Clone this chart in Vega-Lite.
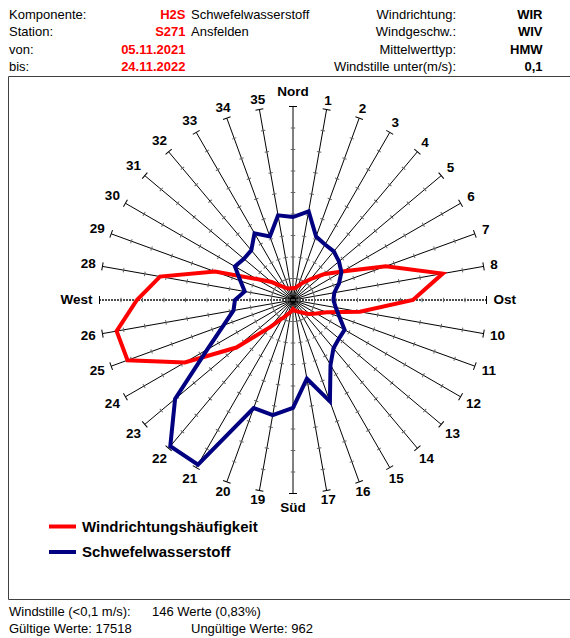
{
  "$schema": "https://vega.github.io/schema/vega-lite/v6.json",
  "width": 562,
  "height": 523,
  "autosize": {"type": "none"},
  "padding": {"left": 8, "top": 76, "right": 0, "bottom": 39},
  "background": "white",
  "config": {
    "view": {"stroke": "#404040", "strokeWidth": 1},
    "font": "Liberation Sans"
  },
  "datasets": {
    "rose": [
      {"dir": 1, "label": "1", "Windrichtungshäufigkeit": 0.56, "Schwefelwasserstoff": 4.19},
      {"dir": 2, "label": "2", "Windrichtungshäufigkeit": 0.70, "Schwefelwasserstoff": 3.14},
      {"dir": 3, "label": "3", "Windrichtungshäufigkeit": 0.93, "Schwefelwasserstoff": 2.98},
      {"dir": 4, "label": "4", "Windrichtungshäufigkeit": 1.26, "Schwefelwasserstoff": 2.95},
      {"dir": 5, "label": "5", "Windrichtungshäufigkeit": 1.86, "Schwefelwasserstoff": 2.79},
      {"dir": 6, "label": "6", "Windrichtungshäufigkeit": 2.65, "Schwefelwasserstoff": 2.60},
      {"dir": 7, "label": "7", "Windrichtungshäufigkeit": 4.60, "Schwefelwasserstoff": 2.28},
      {"dir": 8, "label": "8", "Windrichtungshäufigkeit": 7.07, "Schwefelwasserstoff": 1.95},
      {"dir": 9, "label": "Ost", "Windrichtungshäufigkeit": 5.58, "Schwefelwasserstoff": 1.88},
      {"dir": 10, "label": "10", "Windrichtungshäufigkeit": 3.16, "Schwefelwasserstoff": 2.02},
      {"dir": 11, "label": "11", "Windrichtungshäufigkeit": 1.67, "Schwefelwasserstoff": 2.30},
      {"dir": 12, "label": "12", "Windrichtungshäufigkeit": 1.26, "Schwefelwasserstoff": 2.77},
      {"dir": 13, "label": "13", "Windrichtungshäufigkeit": 1.02, "Schwefelwasserstoff": 2.79},
      {"dir": 14, "label": "14", "Windrichtungshäufigkeit": 0.79, "Schwefelwasserstoff": 2.93},
      {"dir": 15, "label": "15", "Windrichtungshäufigkeit": 0.65, "Schwefelwasserstoff": 3.49},
      {"dir": 16, "label": "16", "Windrichtungshäufigkeit": 0.56, "Schwefelwasserstoff": 5.02},
      {"dir": 17, "label": "17", "Windrichtungshäufigkeit": 0.51, "Schwefelwasserstoff": 3.72},
      {"dir": 18, "label": "Süd", "Windrichtungshäufigkeit": 0.42, "Schwefelwasserstoff": 5.02},
      {"dir": 19, "label": "19", "Windrichtungshäufigkeit": 0.56, "Schwefelwasserstoff": 5.44},
      {"dir": 20, "label": "20", "Windrichtungshäufigkeit": 0.70, "Schwefelwasserstoff": 5.35},
      {"dir": 21, "label": "21", "Windrichtungshäufigkeit": 0.98, "Schwefelwasserstoff": 8.84},
      {"dir": 22, "label": "22", "Windrichtungshäufigkeit": 1.63, "Schwefelwasserstoff": 8.88},
      {"dir": 23, "label": "23", "Windrichtungshäufigkeit": 3.44, "Schwefelwasserstoff": 7.16},
      {"dir": 24, "label": "24", "Windrichtungshäufigkeit": 5.81, "Schwefelwasserstoff": 4.60},
      {"dir": 25, "label": "25", "Windrichtungshäufigkeit": 8.19, "Schwefelwasserstoff": 3.44},
      {"dir": 26, "label": "26", "Windrichtungshäufigkeit": 8.33, "Schwefelwasserstoff": 2.81},
      {"dir": 27, "label": "West", "Windrichtungshäufigkeit": 7.26, "Schwefelwasserstoff": 2.70},
      {"dir": 28, "label": "28", "Windrichtungshäufigkeit": 6.28, "Schwefelwasserstoff": 2.28},
      {"dir": 29, "label": "29", "Windrichtungshäufigkeit": 3.86, "Schwefelwasserstoff": 2.60},
      {"dir": 30, "label": "30", "Windrichtungshäufigkeit": 1.95, "Schwefelwasserstoff": 3.12},
      {"dir": 31, "label": "31", "Windrichtungshäufigkeit": 1.30, "Schwefelwasserstoff": 2.98},
      {"dir": 32, "label": "32", "Windrichtungshäufigkeit": 0.84, "Schwefelwasserstoff": 3.02},
      {"dir": 33, "label": "33", "Windrichtungshäufigkeit": 0.65, "Schwefelwasserstoff": 3.58},
      {"dir": 34, "label": "34", "Windrichtungshäufigkeit": 0.56, "Schwefelwasserstoff": 3.14},
      {"dir": 35, "label": "35", "Windrichtungshäufigkeit": 0.56, "Schwefelwasserstoff": 4.00},
      {"dir": 36, "label": "Nord", "Windrichtungshäufigkeit": 0.56, "Schwefelwasserstoff": 3.86}
    ],
    "grid": [
      {"dir": [1,2,3,4,5,6,7,8,9,10,11,12,13,14,15,16,17,18,19,20,21,22,23,24,25,26,27,28,29,30,31,32,33,34,35,36],
       "level": [1,2,3,4,5,6,7,8,9]}
    ],
    "texts": [
      {"zeile": 1, "spalte": 1, "text": "Komponente:"},
      {"zeile": 1, "spalte": 3, "text": "H2S"},
      {"zeile": 1, "spalte": 4, "text": "Schwefelwasserstoff"},
      {"zeile": 1, "spalte": 5, "text": "Windrichtung:"},
      {"zeile": 1, "spalte": 6, "text": "WIR"},
      {"zeile": 2, "spalte": 1, "text": "Station:"},
      {"zeile": 2, "spalte": 3, "text": "S271"},
      {"zeile": 2, "spalte": 4, "text": "Ansfelden"},
      {"zeile": 2, "spalte": 5, "text": "Windgeschw.:"},
      {"zeile": 2, "spalte": 6, "text": "WIV"},
      {"zeile": 3, "spalte": 1, "text": "von:"},
      {"zeile": 3, "spalte": 3, "text": "05.11.2021"},
      {"zeile": 3, "spalte": 5, "text": "Mittelwerttyp:"},
      {"zeile": 3, "spalte": 6, "text": "HMW"},
      {"zeile": 4, "spalte": 1, "text": "bis:"},
      {"zeile": 4, "spalte": 3, "text": "24.11.2022"},
      {"zeile": 4, "spalte": 5, "text": "Windstille unter(m/s):"},
      {"zeile": 4, "spalte": 6, "text": "0,1"},
      {"zeile": 5, "spalte": 1, "text": "Windstille (<0,1 m/s):"},
      {"zeile": 5, "spalte": 2, "text": "146 Werte (0,83%)"},
      {"zeile": 6, "spalte": 1, "text": "Gültige Werte: 17518"},
      {"zeile": 6, "spalte": 4, "text": "Ungültige Werte: 962"}
    ]
  },
  "layer": [
    {
      "data": {"name": "texts"},
      "encoding": {
        "x": {"field": "spalte", "type": "quantitative", "axis": null,
              "scale": {"domain": [1, 2, 3, 4, 5, 6], "range": [1, 144, 177.5, 183, 448, 534.5], "nice": false, "zero": false}},
        "y": {"field": "zeile", "type": "quantitative", "axis": null,
              "scale": {"domain": [1, 4, 5, 6], "range": [-61, -9, 536, 553], "nice": false, "zero": false}},
        "text": {"field": "text"}
      },
      "layer": [
        {"transform": [{"filter": "datum.spalte == 1 || datum.spalte == 2 || datum.spalte == 4"}],
         "mark": {"type": "text", "align": "left", "baseline": "middle", "fontSize": 13, "font": "Liberation Sans", "color": "#000000"}},
        {"transform": [{"filter": "datum.spalte == 3"}],
         "mark": {"type": "text", "align": "right", "baseline": "middle", "fontSize": 13, "fontWeight": "bold", "font": "Liberation Sans", "color": "#ff0000"}},
        {"transform": [{"filter": "datum.spalte == 5"}],
         "mark": {"type": "text", "align": "right", "baseline": "middle", "fontSize": 13, "font": "Liberation Sans", "color": "#000000"}},
        {"transform": [{"filter": "datum.spalte == 6"}],
         "mark": {"type": "text", "align": "right", "baseline": "middle", "fontSize": 13, "fontWeight": "bold", "font": "Liberation Sans", "color": "#000000"}}
      ]
    },
    {
      "encoding": {
        "x": {"field": "x", "type": "quantitative", "axis": null,
              "scale": {"domain": [-9, 9], "range": [91.5, 478.5], "nice": false, "zero": false}},
        "y": {"field": "y", "type": "quantitative", "axis": null,
              "scale": {"domain": [-9, 9], "range": [417.5, 30.5], "nice": false, "zero": false}}
      },
      "layer": [
        {
          "data": {"name": "rose"},
          "transform": [
            {"filter": "datum.dir != 9 && datum.dir != 27"},
            {"calculate": "datum.dir * PI / 18", "as": "a"},
            {"calculate": "0", "as": "x"},
            {"calculate": "0", "as": "y"},
            {"calculate": "9 * sin(datum.a)", "as": "x2"},
            {"calculate": "9 * cos(datum.a)", "as": "y2"}
          ],
          "mark": {"type": "rule", "color": "#000000", "strokeWidth": 1},
          "encoding": {"x2": {"field": "x2"}, "y2": {"field": "y2"}}
        },
        {
          "data": {"name": "rose"},
          "transform": [
            {"filter": "datum.dir == 9 || datum.dir == 27"},
            {"calculate": "datum.dir * PI / 18", "as": "a"},
            {"calculate": "0", "as": "x"},
            {"calculate": "0", "as": "y"},
            {"calculate": "9 * sin(datum.a)", "as": "x2"},
            {"calculate": "9 * cos(datum.a)", "as": "y2"}
          ],
          "mark": {"type": "rule", "color": "#4d4d4d", "strokeWidth": 2, "strokeDash": [2, 1]},
          "encoding": {"x2": {"field": "x2"}, "y2": {"field": "y2"}}
        },
        {
          "data": {"name": "grid"},
          "transform": [
            {"flatten": ["dir"]},
            {"flatten": ["level"]},
            {"calculate": "datum.dir * PI / 18", "as": "a"},
            {"calculate": "datum.level * sin(datum.a)", "as": "x"},
            {"calculate": "datum.level * cos(datum.a)", "as": "y"},
            {"calculate": "datum.dir * 10", "as": "ang"}
          ],
          "mark": {"type": "point", "shape": "M-1,0L1,0", "filled": false, "opacity": 1, "strokeWidth": 1},
          "encoding": {
            "angle": {"field": "ang", "type": "quantitative", "scale": {"domain": [0, 360], "range": [0, 360]}},
            "size": {"condition": {"test": "datum.level == 9", "value": 64}, "value": 20},
            "color": {"condition": {"test": "datum.level == 9", "value": "#000000"}, "value": "#666666"}
          }
        },
        {
          "data": {"name": "rose"},
          "transform": [
            {"fold": ["Windrichtungshäufigkeit", "Schwefelwasserstoff"], "as": ["series", "v"]},
            {"calculate": "datum.dir * PI / 18", "as": "a"},
            {"calculate": "datum.v * sin(datum.a)", "as": "x"},
            {"calculate": "datum.v * cos(datum.a)", "as": "y"}
          ],
          "mark": {"type": "line", "interpolate": "linear-closed", "strokeWidth": 4, "strokeJoin": "miter"},
          "encoding": {
            "order": {"field": "dir", "type": "quantitative"},
            "color": {
              "field": "series", "type": "nominal",
              "scale": {"domain": ["Windrichtungshäufigkeit", "Schwefelwasserstoff"], "range": ["#ff0000", "#000080"]},
              "legend": {
                "title": null, "orient": "none", "legendX": 39, "legendY": 435,
                "symbolType": "stroke", "symbolSize": 729, "symbolStrokeWidth": 4,
                "labelFontSize": 15, "labelFontWeight": "bold", "labelFont": "Liberation Sans",
                "labelColor": "#000000", "labelOffset": 4, "rowPadding": 1.5, "labelLimit": 400
              }
            }
          }
        },
        {
          "data": {"name": "rose"},
          "transform": [
            {"calculate": "datum.dir * PI / 18", "as": "a"},
            {"calculate": "datum.label == 'Nord' ? 30 : datum.label == 'Ost' ? 21.7 : datum.label == 'Süd' ? 24 : datum.label == 'West' ? 31 : length(datum.label) * 7.23", "as": "w"},
            {"calculate": "datum.label == 'Nord' || datum.label == 'Süd' ? 10 : datum.label == 'Ost' || datum.label == 'West' ? 7.5 : 6 * abs(sin(datum.a)) + 2.5 * abs(cos(datum.a))", "as": "g"},
            {"calculate": "(193.5 + datum.g + datum.w / 2 * abs(sin(datum.a)) + 4.7 * abs(cos(datum.a))) / 21.5", "as": "lr"},
            {"calculate": "datum.lr * sin(datum.a)", "as": "x"},
            {"calculate": "datum.lr * cos(datum.a)", "as": "y"}
          ],
          "mark": {"type": "text", "align": "center", "baseline": "middle", "fontSize": 13.5, "fontWeight": "bold", "font": "Liberation Sans", "color": "#000000"},
          "encoding": {"text": {"field": "label"}}
        }
      ]
    }
  ],
  "resolve": {"scale": {"x": "independent", "y": "independent"}}
}
